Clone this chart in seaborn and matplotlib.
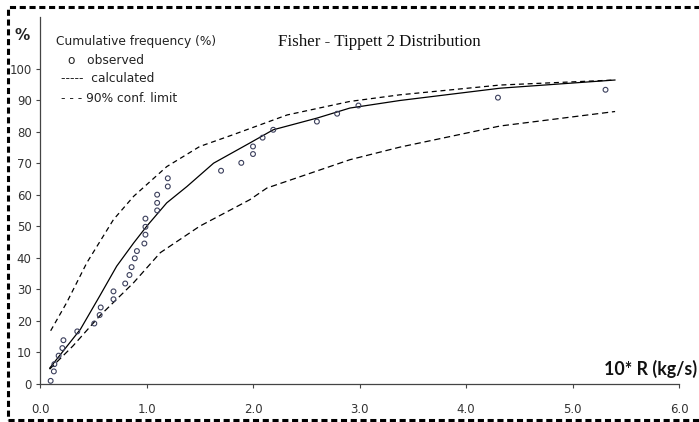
import matplotlib
matplotlib.use("Agg")
import matplotlib.pyplot as plt
import seaborn as sns
import pandas as pd
from matplotlib.patches import Rectangle

# ---- data ----
obs_x = [0.10, 0.13, 0.135, 0.175, 0.21, 0.22, 0.35, 0.51, 0.56, 0.57, 0.69, 0.69,
         0.80, 0.84, 0.86, 0.89, 0.91, 0.98, 0.99, 0.99, 0.99, 1.10, 1.10, 1.10,
         1.20, 1.20, 1.70, 1.89, 2.00, 2.00, 2.09, 2.19, 2.60, 2.79, 2.99, 4.30, 5.31]
obs_y = [1.0, 4.0, 6.3, 9.0, 11.4, 13.9, 16.7, 19.2, 21.9, 24.3, 26.9, 29.4,
         31.9, 34.6, 37.1, 39.9, 42.2, 44.6, 47.4, 49.9, 52.5, 55.1, 57.5, 60.1,
         62.7, 65.3, 67.7, 70.2, 73.0, 75.4, 78.2, 80.7, 83.3, 85.8, 88.4, 90.9, 93.4]

calc_x = [0.09, 0.38, 0.56, 0.72, 0.88, 1.00, 1.19, 1.38, 1.63, 1.97, 2.19, 2.60, 2.91, 3.38, 4.32, 5.40]
calc_y = [5.0, 17.4, 27.9, 37.4, 44.8, 50.0, 57.5, 62.7, 70.1, 76.5, 80.7, 84.4, 87.6, 90.0, 93.9, 96.5]

up_x = [0.10, 0.25, 0.44, 0.69, 0.88, 1.19, 1.50, 1.81, 2.32, 2.91, 3.38, 4.32, 5.40]
up_y = [16.9, 25.8, 38.5, 52.2, 59.6, 69.0, 75.4, 79.1, 85.4, 89.7, 91.8, 94.9, 96.5]

lo_x = [0.09, 0.31, 0.56, 0.88, 1.13, 1.50, 1.97, 2.13, 2.91, 3.38, 4.32, 5.40]
lo_y = [4.7, 12.1, 21.6, 32.2, 41.7, 50.1, 58.5, 62.2, 71.2, 75.2, 81.9, 86.5]

x_ticks = [0, 1, 2, 3, 4, 5, 6]
x_tick_labels = ["0.0", "1.0", "2.0", "3.0", "4.0", "5.0", "6.0"]
y_ticks = [0, 10, 20, 30, 40, 50, 60, 70, 80, 90, 100]
y_tick_labels = ["0", "10", "20", "30", "40", "50", "60", "70", "80", "90", "100"]

sns.set_style("ticks")
plt.rcParams['font.family'] = ['DejaVu Sans']

fig = plt.figure(figsize=(6.99, 4.22), dpi=100)
ax = fig.add_axes([40/699, (422-384)/422, 639/699, (384-17)/422])

obs = pd.DataFrame({"x": obs_x, "y": obs_y})
calc = pd.DataFrame({"x": calc_x, "y": calc_y})
up = pd.DataFrame({"x": up_x, "y": up_y})
lo = pd.DataFrame({"x": lo_x, "y": lo_y})

sns.lineplot(data=calc, x="x", y="y", ax=ax, sort=False, color="black", lw=0.9)
sns.lineplot(data=up, x="x", y="y", ax=ax, sort=False, color="black", lw=0.9,
             linestyle=(0, (4, 3)))
sns.lineplot(data=lo, x="x", y="y", ax=ax, sort=False, color="black", lw=0.9,
             linestyle=(0, (5, 3)))
sns.scatterplot(data=obs, x="x", y="y", ax=ax, marker="o", s=12,
                facecolor="none", edgecolor="#3b3f5c", linewidth=0.8, zorder=5)

ax.set_xlim(0, 6)
ax.set_ylim(0, 116.5)
ax.set_xticks(x_ticks)
ax.set_xticklabels(x_tick_labels, fontsize=8.5, color="#333333")
ax.set_yticks(y_ticks)
ax.set_yticklabels(y_tick_labels, fontsize=8.5, color="#333333")
ax.tick_params(axis="both", length=3, width=0.8, color="#444444", pad=3)
ax.tick_params(axis="x", pad=11)
ax.set_xlabel("")
ax.set_ylabel("")
for s in ["top", "right"]:
    ax.spines[s].set_visible(False)
for s in ["left", "bottom"]:
    ax.spines[s].set_color("#444444")
    ax.spines[s].set_linewidth(0.9)

# texts
fig.text(22/699, 1 - 35/422, "%", fontsize=11, fontweight="bold", ha="center", va="center", color="#222222")
fig.text(56/699, 1 - 42/422, "Cumulative frequency (%)", fontsize=8.8, va="center", color="#222222")
fig.text(68/699, 1 - 60/422, "o   observed", fontsize=8.8, va="center", color="#222222")
fig.text(61/699, 1 - 79/422, "-----  calculated", fontsize=8.8, va="center", color="#222222")
fig.text(61/699, 1 - 98/422, "- - - 90% conf. limit", fontsize=8.8, va="center", color="#222222")
fig.text(278/699, 1 - 42/422, "Fisher - Tippett 2 Distribution", fontsize=12.2,
         family="Liberation Serif", va="center", color="#111111")
fig.text(697/699, 1 - 369/422, "10* R (kg/s)", fontsize=12.8, fontweight="bold",
         family="Lato", ha="right", va="center", color="#111111")

# dashed figure border
fig.patches.append(Rectangle((8/699, 2/422), 0.995, (420-7)/422, transform=fig.transFigure,
                             fill=False, edgecolor="black", linewidth=2.2,
                             linestyle=(0, (2, 1.2)), figure=fig))

fig.savefig("out.png", dpi=100)
